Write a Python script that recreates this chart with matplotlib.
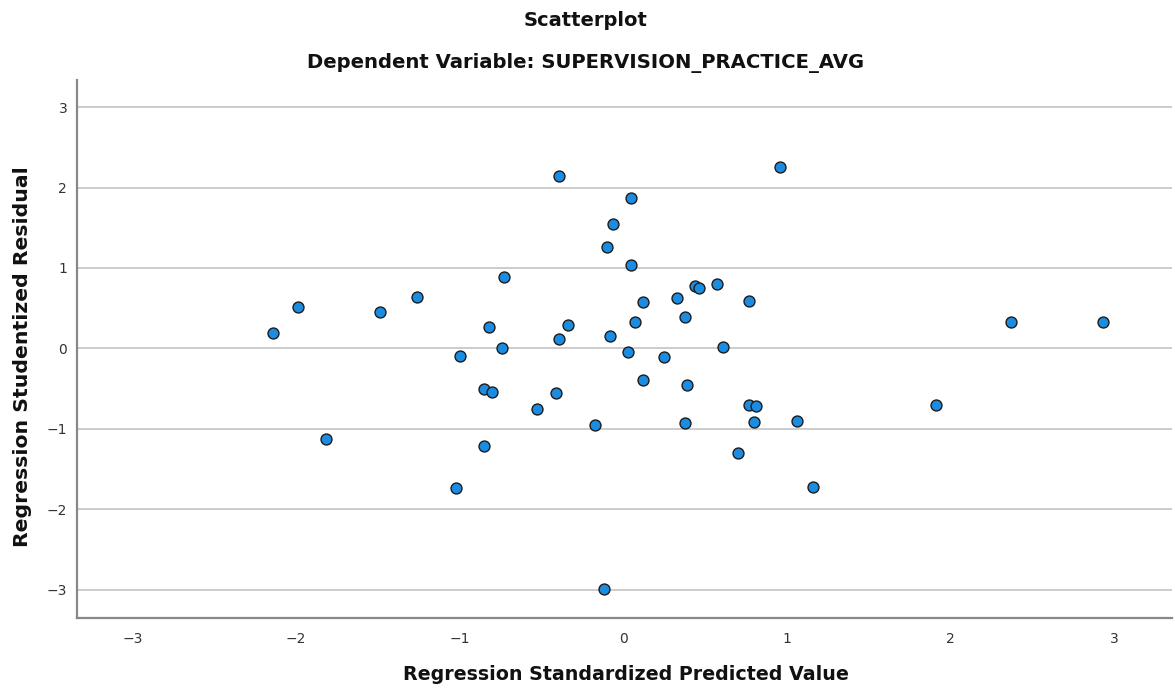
import matplotlib
matplotlib.use("Agg")
import matplotlib.pyplot as plt

# standardized predicted values (x) and studentized residuals (y)
pred_std = [-2.14, -1.99, -1.49, -1.82,
            -0.39, 0.96, 0.05, -0.06, -0.10,
            0.05, -0.73, -1.26, 0.44, 0.46, 0.57, 0.12, 0.33, 0.77,
            0.38, 0.07, -0.82, -0.34, -0.39, -0.08, -0.74, 0.61,
            -1.00, 0.03, 0.25, 0.12, 0.39, -0.85, -0.80, -0.41,
            -0.53, 0.77, 0.81, -0.17, 0.38, 0.80, 1.06, -0.85,
            0.70, -1.02,
            2.37, 2.93, 1.91, 1.16,
            -0.12]
resid_stud = [0.19, 0.52, 0.45, -1.13,
              2.14, 2.26, 1.87, 1.55, 1.26,
              1.04, 0.89, 0.64, 0.77, 0.75, 0.80, 0.58, 0.63, 0.59,
              0.39, 0.33, 0.27, 0.29, 0.12, 0.16, 0.00, 0.02,
              -0.10, -0.05, -0.11, -0.39, -0.46, -0.50, -0.54, -0.55,
              -0.75, -0.70, -0.72, -0.95, -0.93, -0.91, -0.90, -1.21,
              -1.30, -1.73,
              0.33, 0.33, -0.70, -1.72,
              -2.99]
ticks = [-3, -2, -1, 0, 1, 2, 3]
tick_labels = ['\u22123', '\u22122', '\u22121', '0', '1', '2', '3']

plt.rcParams['font.family'] = ['DejaVu Sans']

fig = plt.figure(figsize=(11.75, 6.92), dpi=100)
ax = fig.add_axes([0.0655, 0.107, 0.932, 0.777])

ax.scatter(pred_std, resid_stud, s=62, color='#1a8de3', edgecolor='#1c1c1c',
           linewidth=1.0, zorder=3)

ax.set_xlim(-3.34, 3.355)
ax.set_ylim(-3.35, 3.333)
ax.set_xticks(ticks)
ax.set_yticks(ticks)
ax.set_xticklabels(tick_labels)
ax.set_yticklabels(tick_labels)
ax.tick_params(length=0, labelsize=10, labelcolor='#333333')
ax.tick_params(axis='x', pad=10)
ax.tick_params(axis='y', pad=7)

ax.grid(axis='y', color='#c8c8c8', linewidth=1.3, zorder=0)
ax.set_axisbelow(True)
for side in ['top', 'right']:
    ax.spines[side].set_visible(False)
for side in ['left', 'bottom']:
    ax.spines[side].set_color('#888888')
    ax.spines[side].set_linewidth(1.6)

ax.set_xlabel("Regression Standardized Predicted Value", fontsize=13.7,
              fontweight='bold', color='#111111')
ax.set_ylabel("Regression Studentized Residual", fontsize=14.7,
              fontweight='bold', color='#111111')
ax.xaxis.set_label_coords(0.5328, 0.039, transform=fig.transFigure)
ax.yaxis.set_label_coords(0.0272, 0.484, transform=fig.transFigure)

fig.text(0.4987, 0.971, "Scatterplot", ha='center', va='center',
         fontsize=14, fontweight='bold', color='#111111')
fig.text(0.4987, 0.909, "Dependent Variable: SUPERVISION_PRACTICE_AVG",
         ha='center', va='center', fontsize=14.1, fontweight='bold',
         color='#111111')

fig.savefig("out.png", dpi=100, facecolor='white')
